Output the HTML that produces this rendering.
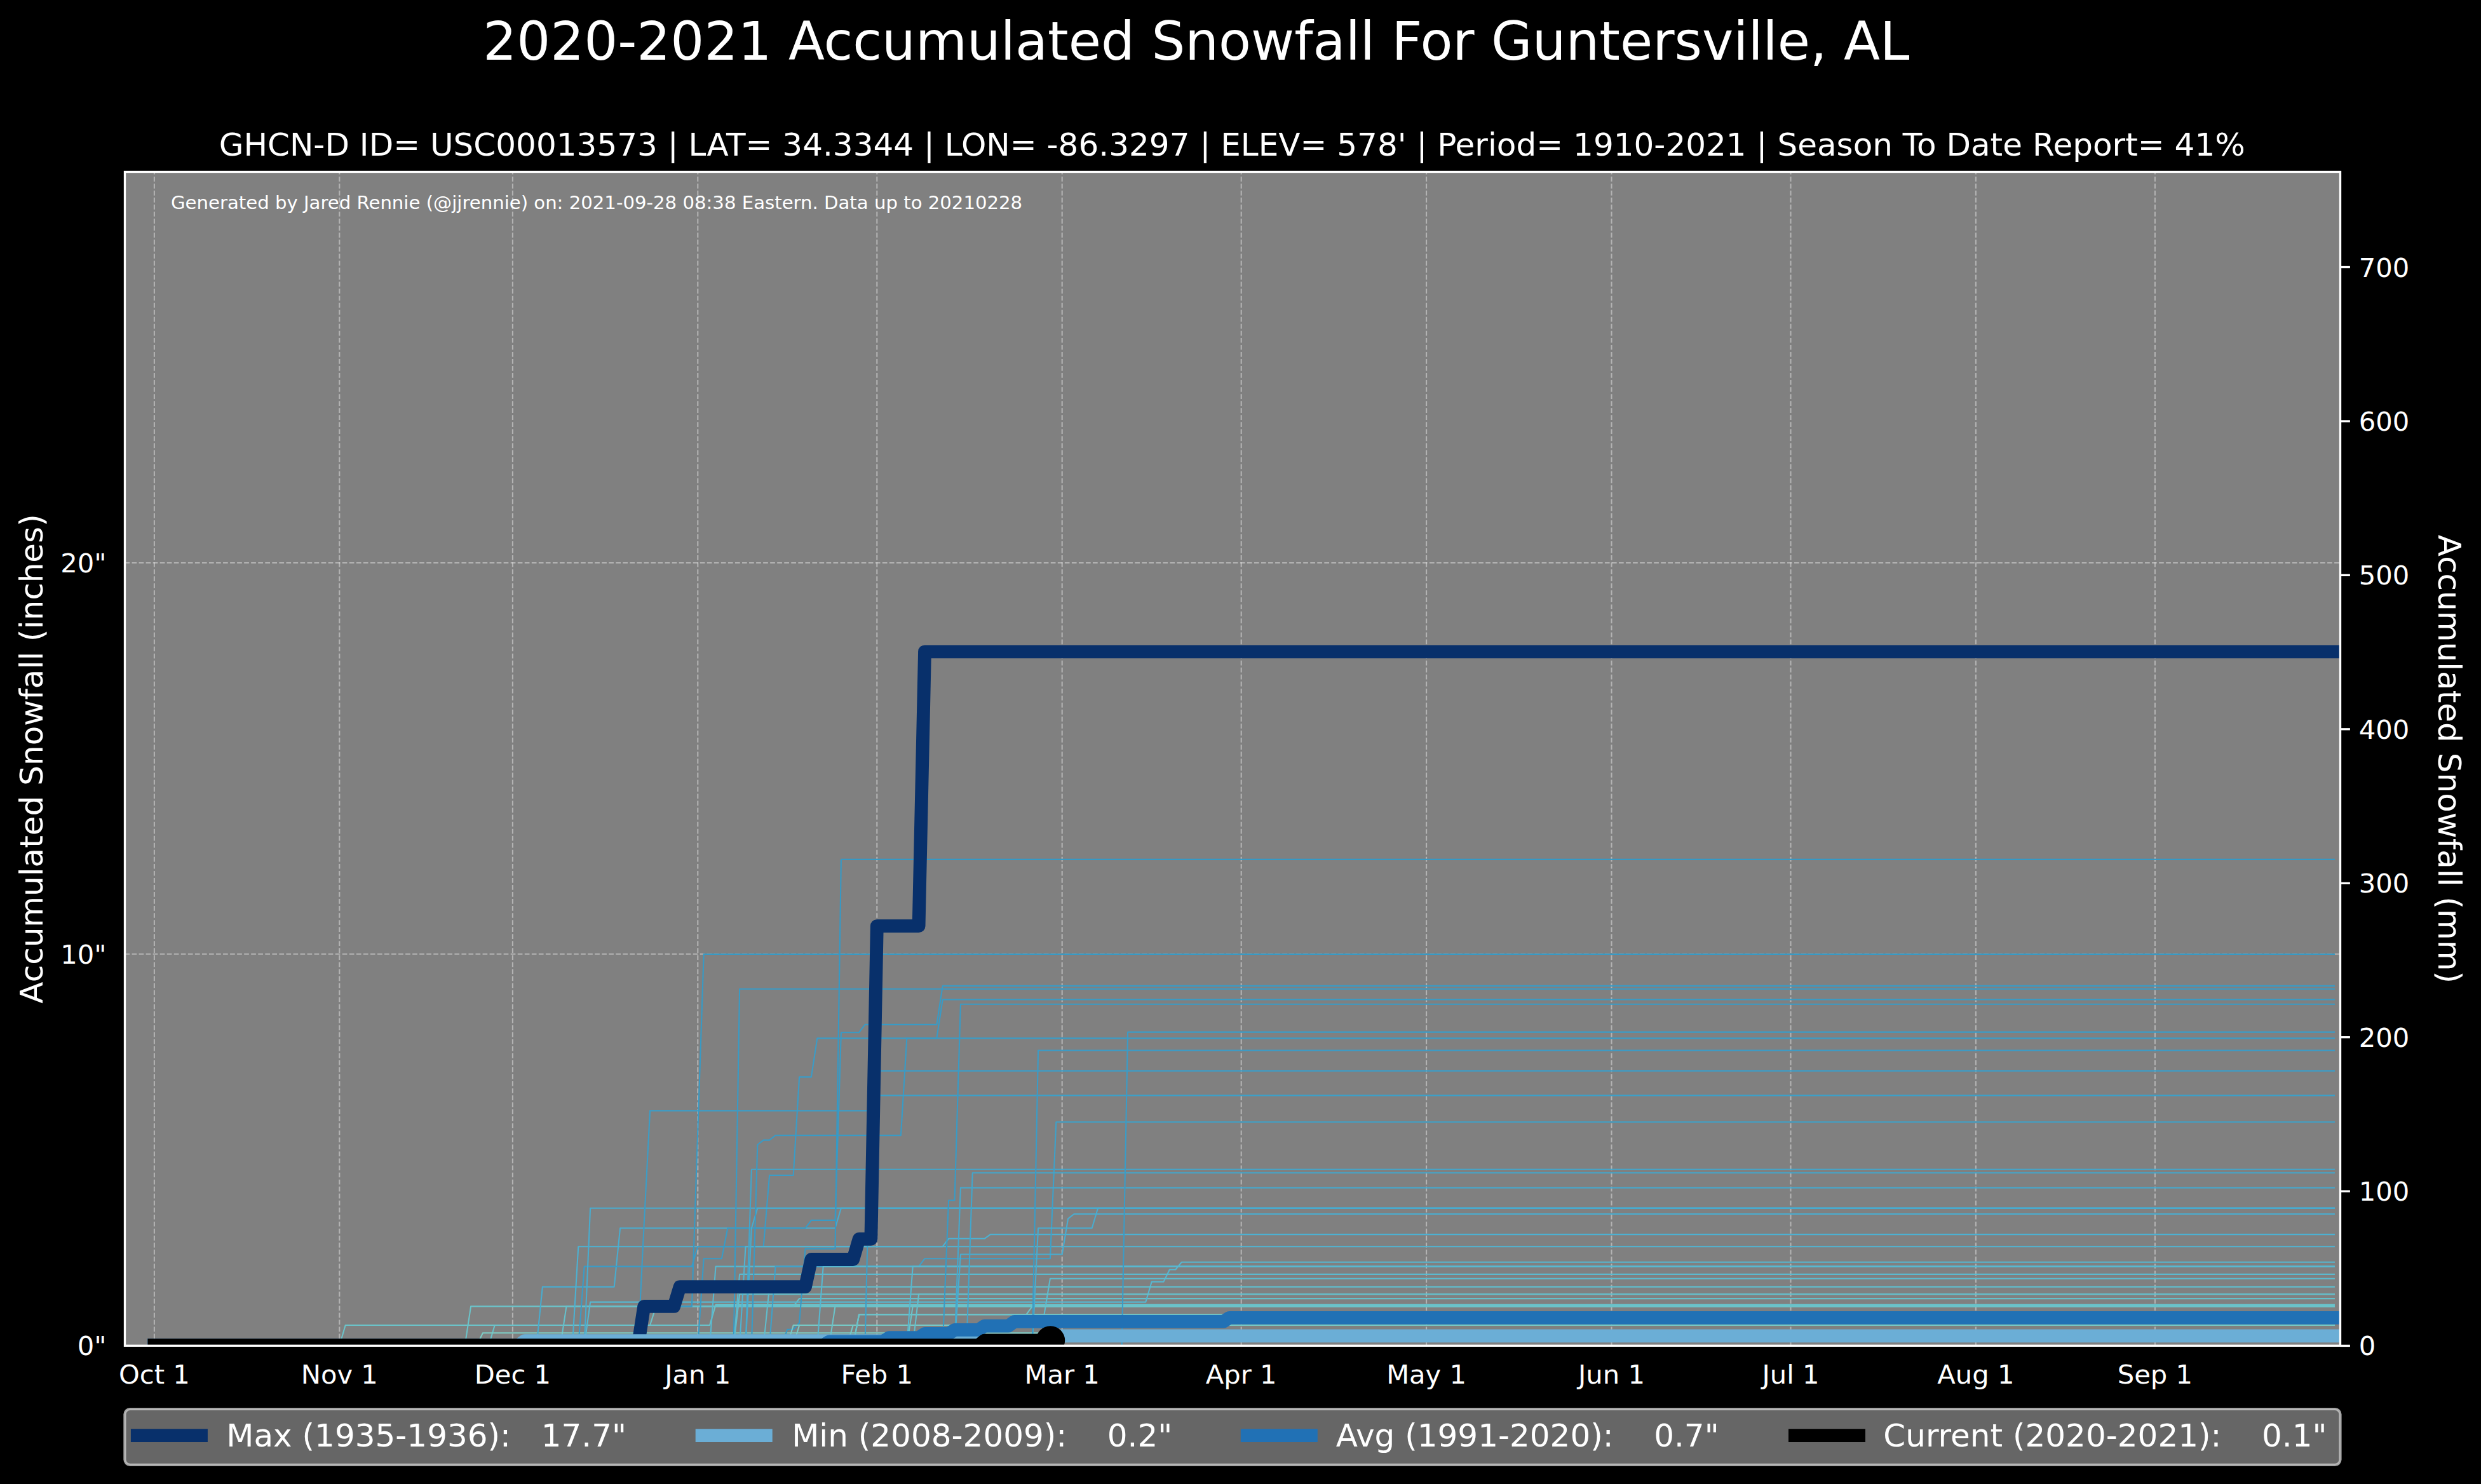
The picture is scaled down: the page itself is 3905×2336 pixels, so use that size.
<!DOCTYPE html>
<html lang="en"><head><meta charset="utf-8"><title>2020-2021 Accumulated Snowfall For Guntersville, AL</title>
<style>html,body{margin:0;padding:0;background:#000;width:3905px;height:2336px;overflow:hidden;}svg{display:block;}text{font-family:"DejaVu Sans","Liberation Sans",sans-serif;fill:#fff;white-space:pre;}</style>
</head><body>
<svg width="3905" height="2336" viewBox="0 0 3905 2336">
<rect x="0" y="0" width="3905" height="2336" fill="#000"/>
<rect x="196.5" y="270.5" width="3487.0" height="1847.8000000000002" fill="#808080"/>
<clipPath id="ax"><rect x="196.5" y="270.5" width="3487.0" height="1847.8000000000002"/></clipPath>
<g clip-path="url(#ax)" stroke="#fff" stroke-opacity="0.40" stroke-width="2.08" stroke-dasharray="7.7 3.34" fill="none">
<path d="M242.9 2118.3V270.5"/>
<path d="M534.3 2118.3V270.5"/>
<path d="M806.9 2118.3V270.5"/>
<path d="M1098.3 2118.3V270.5"/>
<path d="M1380.3 2118.3V270.5"/>
<path d="M1671.7 2118.3V270.5"/>
<path d="M1953.7 2118.3V270.5"/>
<path d="M2245.1 2118.3V270.5"/>
<path d="M2536.5 2118.3V270.5"/>
<path d="M2818.5 2118.3V270.5"/>
<path d="M3109.9 2118.3V270.5"/>
<path d="M3391.9 2118.3V270.5"/>
<path d="M196.5 1501.8H3683.5"/>
<path d="M196.5 886H3683.5"/>
</g>
<g clip-path="url(#ax)" fill="none" stroke-width="2.08" stroke-linejoin="round" stroke-linecap="square">
<path d="M242.9 2118L534.3 2118L543.7 2086L1023.1 2086L1032.5 2056.4L3673.9 2056.4" stroke="#6bc3c9"/>
<path d="M242.9 2118L769.3 2118L778.7 2086L1117.1 2086L1126.5 2053.9L3673.9 2053.9" stroke="#69c2ca"/>
<path d="M242.9 2118L731.7 2118L741.1 2056.4L3673.9 2056.4" stroke="#6bc3c9"/>
<path d="M242.9 2118L882.1 2118L891.5 2056.4L1248.7 2056.4L1258.1 2044.1L3673.9 2044.1" stroke="#65c0cb"/>
<path d="M242.9 2118L750.5 2118L759.9 2098.3L3673.9 2098.3" stroke="#7cccc4"/>
<path d="M242.9 2118L844.5 2118L853.9 2025.6L966.7 2025.6L976.1 1933.2L1314.5 1933.2L1323.9 1901.8L3673.9 1901.8" stroke="#48accf"/>
<path d="M242.9 2118L900.9 2118L910.3 1962.2L1483.7 1962.2L1493.1 1949.8L1549.5 1949.8L1558.9 1943.1L3673.9 1943.1" stroke="#4cb1d2"/>
<path d="M242.9 2118L910.3 2118L919.7 1993.6L1088.9 1993.6L1098.3 1962.2L1201.7 1962.2L1211.1 1850L1248.7 1850L1258.1 1695.4L1276.9 1695.4L1286.3 1634.4L3673.9 1634.4" stroke="#3a9cc7"/>
<path d="M242.9 2118L919.7 2118L929.1 1901.8L3673.9 1901.8" stroke="#48accf"/>
<path d="M242.9 2118L919.7 2118L929.1 2049.6L1803.3 2049.6L1812.7 2017.6L1831.5 2017.6L1840.9 1998.5L1850.3 1998.5L1859.7 1986.8L3673.9 1986.8" stroke="#56b7d0"/>
<path d="M242.9 2118L1004.3 2118L1013.7 1927L1023.1 1748.4L1370.9 1748.4L1380.3 1685.6L3673.9 1685.6" stroke="#3b9dc7"/>
<path d="M242.9 2118L1004.3 2118L1013.7 2056.4L1088.9 2056.4L1107.7 1502L3673.9 1502" stroke="#379ac5"/>
<path d="M242.9 2118L1098.3 2118L1107.7 1981.2L1135.9 1981.2L1145.3 1933.2L1267.5 1933.2L1276.9 1920.9L1314.5 1920.9L1323.9 1625.2L1352.1 1625.2L1361.5 1612.9L1474.3 1612.9L1483.7 1551.9L3673.9 1551.9" stroke="#389bc6"/>
<path d="M242.9 2118L1117.1 2118L1126.5 1993.6L3673.9 1993.6" stroke="#57b8d0"/>
<path d="M242.9 2118L1154.7 2118L1164.1 1556.8L3673.9 1556.8" stroke="#389bc6"/>
<path d="M242.9 2118L1154.7 2118L1164.1 2037.3L3673.9 2037.3" stroke="#64bfcc"/>
<path d="M242.9 2118L1154.7 2118L1164.1 2005.9L3673.9 2005.9" stroke="#5abacf"/>
<path d="M242.9 2118L1164.1 2118L1173.5 1962.2L3673.9 1962.2" stroke="#50b4d2"/>
<path d="M242.9 2118L1173.5 2118L1182.9 1840.8L3673.9 1840.8" stroke="#42a6cc"/>
<path d="M242.9 2118L1173.5 2118L1182.9 1933.2L1192.3 1901.8L3673.9 1901.8" stroke="#48accf"/>
<path d="M242.9 2118L1182.9 2118L1192.3 1802L1201.7 1794.6L1211.1 1794.6L1220.5 1787.2L1417.9 1787.2L1427.3 1634.4L1474.3 1634.4L1483.7 1573.5L3673.9 1573.5" stroke="#389bc6"/>
<path d="M242.9 2118L1201.7 2118L1211.1 2025.6L3673.9 2025.6" stroke="#5fbdcd"/>
<path d="M242.9 2118L1211.1 2118L1220.5 1993.6L1446.1 1993.6L1455.5 1981.2L1652.9 1981.2L1662.3 1766.3L3673.9 1766.3" stroke="#3ea1c9"/>
<path d="M242.9 2118L1229.9 2118L1239.3 2092.7L1248.7 2092.7L1258.1 2082.3L1267.5 1965.8L1314.5 1965.8L1323.9 1352.9L3673.9 1352.9" stroke="#3699c5"/>
<path d="M242.9 2118L1239.3 2118L1248.7 2086L3673.9 2086" stroke="#76c9c6"/>
<path d="M242.9 2118L1248.7 2118L1258.1 2086L3673.9 2086" stroke="#76c9c6"/>
<path d="M242.9 2118L1286.3 2118L1295.7 1993.6L3673.9 1993.6" stroke="#57b8d0"/>
<path d="M242.9 2118L1305.1 2118L1314.5 2056.4L3673.9 2056.4" stroke="#6bc3c9"/>
<path d="M242.9 2118L1333.3 2118L1342.7 2086L3673.9 2086" stroke="#76c9c6"/>
<path d="M242.9 2118L1342.7 2118L1352.1 2069.3L1643.5 2069.3L1652.9 2012.7L3673.9 2012.7" stroke="#5dbbce"/>
<path d="M242.9 2118L1342.7 2118L1352.1 2069.3L3673.9 2069.3" stroke="#6fc5c8"/>
<path d="M242.9 2118L1342.7 2118L1352.1 2069.3L1615.3 2069.3L1624.7 2056.4L3673.9 2056.4" stroke="#6bc3c9"/>
<path d="M242.9 2118L1361.5 2118L1370.9 1724.4L3673.9 1724.4" stroke="#3c9fc8"/>
<path d="M242.9 2118L1427.3 2118L1436.7 1993.6L3673.9 1993.6" stroke="#57b8d0"/>
<path d="M242.9 2118L1427.3 2118L1436.7 2056.4L3673.9 2056.4" stroke="#6bc3c9"/>
<path d="M242.9 2118L1436.7 2118L1446.1 2037.3L3673.9 2037.3" stroke="#64bfcc"/>
<path d="M242.9 2118L1483.7 2118L1493.1 1889.5L1502.5 1889.5L1511.9 1580.8L3673.9 1580.8" stroke="#389bc6"/>
<path d="M242.9 2118L1502.5 2118L1511.9 1974.5L1671.7 1974.5L1681.1 1918.4L1690.5 1911L3673.9 1911" stroke="#49add0"/>
<path d="M242.9 2118L1502.5 2118L1511.9 1869.8L3673.9 1869.8" stroke="#45a8cd"/>
<path d="M242.9 2118L1521.3 2118L1530.7 1846.3L3673.9 1846.3" stroke="#42a6cc"/>
<path d="M242.9 2118L1624.7 2118L1634.1 1933.2L1718.7 1933.2L1728.1 1901.8L3673.9 1901.8" stroke="#48accf"/>
<path d="M242.9 2118L1624.7 2118L1634.1 1653.5L3673.9 1653.5" stroke="#3a9cc7"/>
<path d="M242.9 2118L1765.7 2118L1775.1 1624.6L3673.9 1624.6" stroke="#3a9cc7"/>
</g>
<g clip-path="url(#ax)" fill="none" stroke-width="20.83" stroke-linejoin="round" stroke-linecap="square">
<path d="M242.9 2117.6L1004.3 2117.6L1013.7 2056.4L1060.7 2056.4L1070.1 2025.6L1267.5 2025.6L1276.9 1982.5L1342.7 1982.5L1352.1 1950.4L1370.9 1950.4L1380.3 1457.6L1446.1 1457.6L1455.5 1025.8L3673.9 1025.8" stroke="#08306b"/>
<path d="M242.9 2117.6L816.3 2117.6L825.7 2110.6L1652.9 2110.6L1662.3 2102.9L3673.9 2102.9" stroke="#6baed6"/>
<path d="M242.9 2117.6L1295.7 2117.6L1305.1 2111.8L1389.7 2111.8L1399.1 2105.7L1446.1 2105.7L1455.5 2099.5L1493.1 2099.5L1502.5 2093.4L1540.1 2093.4L1549.5 2087.2L1587.1 2087.2L1596.5 2080.4L1925.5 2080.4L1934.9 2074.3L3673.9 2074.3" stroke="#2171b5"/>
<path d="M242.9 2117.6L1540.1 2117.6L1549.5 2110.1L1652.9 2110.1" stroke="#000"/>
</g>
<circle cx="1653.3" cy="2110.1" r="22.9" fill="#000" clip-path="url(#ax)"/>
<rect x="196.5" y="270.5" width="3487.0" height="1847.8000000000002" fill="none" stroke="#fff" stroke-width="3.33"/>
<g stroke="#fff" stroke-width="3.33">
<path d="M3683.5 2118.4h15.4"/>
<path d="M3683.5 1875.2h15.4"/>
<path d="M3683.5 1632.7h15.4"/>
<path d="M3683.5 1390.3h15.4"/>
<path d="M3683.5 1147.8h15.4"/>
<path d="M3683.5 905.4h15.4"/>
<path d="M3683.5 663h15.4"/>
<path d="M3683.5 420.5h15.4"/>
</g>
<text x="1882.8" y="93.8" font-size="83.33" text-anchor="middle">2020-2021 Accumulated Snowfall For Guntersville, AL</text>
<text x="1939.2" y="245.4" font-size="50" text-anchor="middle" textLength="3189.1" lengthAdjust="spacing">GHCN-D ID= USC00013573 | LAT= 34.3344 | LON= -86.3297 | ELEV= 578' | Period= 1910-2021 | Season To Date Report= 41%</text>
<text x="269" y="329.3" font-size="29.17">Generated by Jared Rennie (@jjrennie) on: 2021-09-28 08:38 Eastern. Data up to 20210228</text>
<g font-size="41.67" text-anchor="middle">
<text x="242.9" y="2178.3">Oct 1</text>
<text x="534.3" y="2178.3">Nov 1</text>
<text x="806.9" y="2178.3">Dec 1</text>
<text x="1098.3" y="2178.3">Jan 1</text>
<text x="1380.3" y="2178.3">Feb 1</text>
<text x="1671.7" y="2178.3">Mar 1</text>
<text x="1953.7" y="2178.3">Apr 1</text>
<text x="2245.1" y="2178.3">May 1</text>
<text x="2536.5" y="2178.3">Jun 1</text>
<text x="2818.5" y="2178.3">Jul 1</text>
<text x="3109.9" y="2178.3">Aug 1</text>
<text x="3391.9" y="2178.3">Sep 1</text>
</g>
<g font-size="41.67" text-anchor="end">
<text x="167.3" y="2133.2">0"</text>
<text x="167.3" y="1516.8">10"</text>
<text x="167.3" y="901">20"</text>
</g>
<g font-size="41.67">
<text x="3712.7" y="2133.2">0</text>
<text x="3712.7" y="1890.2">100</text>
<text x="3712.7" y="1647.7">200</text>
<text x="3712.7" y="1405.3">300</text>
<text x="3712.7" y="1162.8">400</text>
<text x="3712.7" y="920.4">500</text>
<text x="3712.7" y="678">600</text>
<text x="3712.7" y="435.5">700</text>
</g>
<text font-size="50" text-anchor="middle" transform="translate(67.4 1194.5) rotate(-90)">Accumulated Snowfall (inches)</text>
<text font-size="50" text-anchor="middle" transform="translate(3837.9 1194.9) rotate(90)">Accumulated Snowfall (mm)</text>
<rect x="196.4" y="2218.0" width="3487.1" height="87.9" rx="8.3" ry="8.3" fill="#808080" fill-opacity="0.8" stroke="#cccccc" stroke-opacity="0.8" stroke-width="4.17"/>
<g stroke-width="20.83" fill="none">
<path d="M205.9 2259.6h121" stroke="#08306b"/>
<path d="M1094.7 2259.6h121" stroke="#6baed6"/>
<path d="M1952.8 2259.6h121" stroke="#2171b5"/>
<path d="M2815 2259.6h121" stroke="#000"/>
</g>
<g font-size="50">
<text x="356.3" y="2276.8" xml:space="preserve">Max (1935-1936):   17.7"</text>
<text x="1246.2" y="2276.8" xml:space="preserve">Min (2008-2009):    0.2"</text>
<text x="2102.7" y="2276.8" xml:space="preserve">Avg (1991-2020):    0.7"</text>
<text x="2964.3" y="2276.8" xml:space="preserve">Current (2020-2021):    0.1"</text>
</g>
</svg>
</body></html>
